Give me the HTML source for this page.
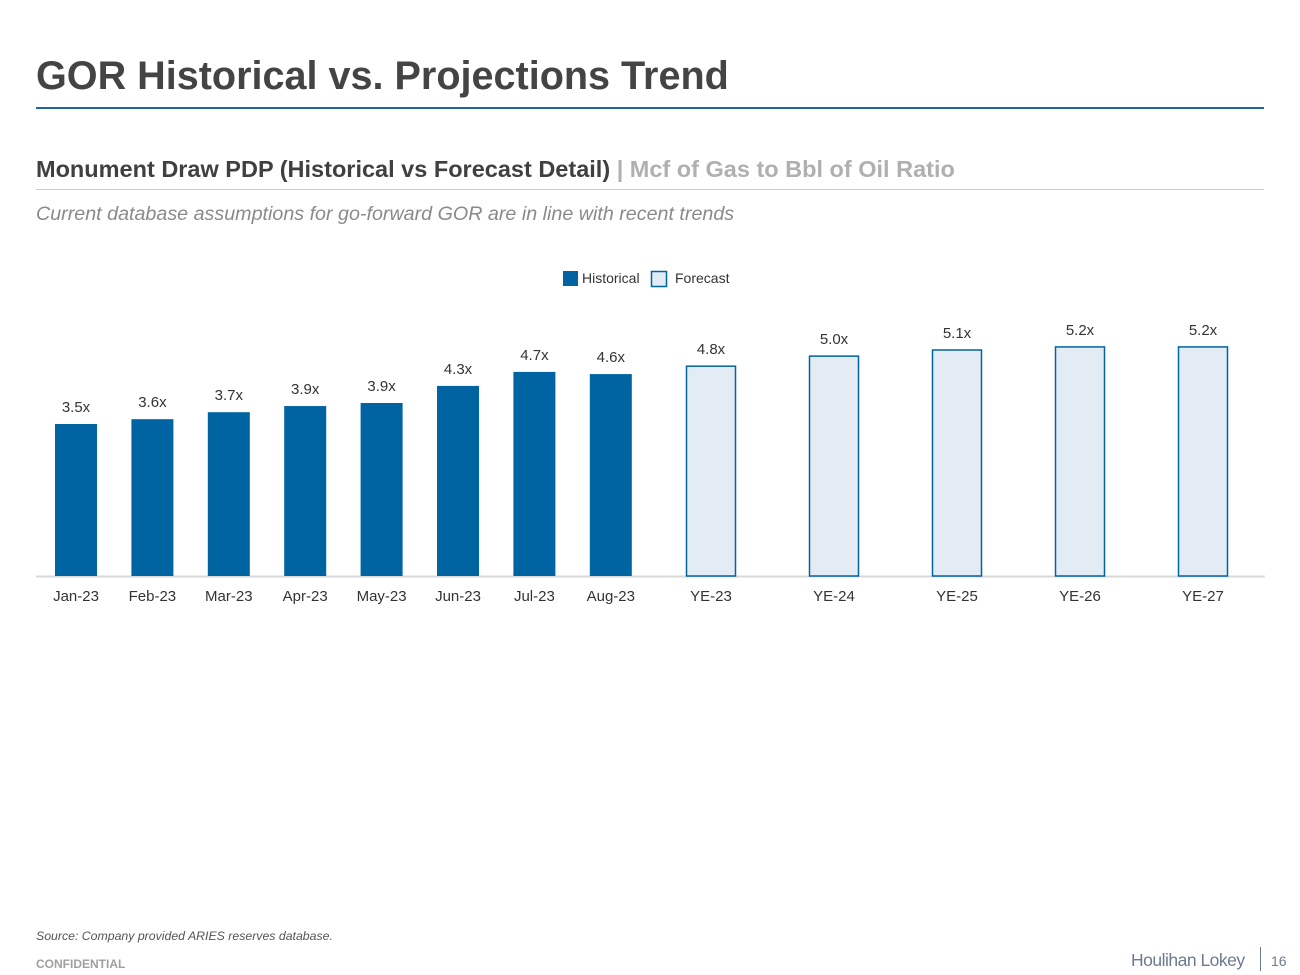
<!DOCTYPE html>
<html><head><meta charset="utf-8"><style>
body{margin:0;width:1300px;height:975px;background:#fff;font-family:"Liberation Sans",sans-serif;position:relative;overflow:hidden}
.a{position:absolute;white-space:nowrap}
</style></head><body>
<div class="a" style="left:36px;top:54px;font-size:39.6px;font-weight:bold;color:#444">GOR Historical vs. Projections Trend</div>
<div class="a" style="left:36px;top:107px;width:1228px;height:2px;background:#1f64a5"></div>
<div class="a" style="left:36px;top:156px;font-size:23.5px;font-weight:bold;color:#404040">Monument Draw PDP (Historical vs Forecast Detail) <span style="color:#b0b0b0">| Mcf of Gas to Bbl of Oil Ratio</span></div>
<div class="a" style="left:36px;top:189px;width:1228px;height:1px;background:#ccc"></div>
<div class="a" style="left:36px;top:203px;font-size:19.7px;font-style:italic;color:#8a8a8a">Current database assumptions for go-forward GOR are in line with recent trends</div>
<svg class="a" style="left:0;top:0" width="1300" height="975">
<g font-size="14" fill="#333">
<rect x="563" y="271" width="15" height="15" fill="#0063a2"/>
<text x="582" y="283">Historical</text>
<rect x="651.5" y="271.5" width="15" height="15" fill="#e3ecf4" stroke="#0063a2" stroke-width="1.5"/>
<text x="675" y="283">Forecast</text>
</g>
<line x1="36" x2="1265" y1="576.5" y2="576.5" stroke="#d9d9d9" stroke-width="2"/>
<g id="bars"></g>
</svg>
<div class="a" style="left:36px;top:929px;font-size:12.3px;font-style:italic;color:#555">Source: Company provided ARIES reserves database.</div>
<div class="a" style="left:36px;top:957px;font-size:12px;font-weight:bold;color:#a0a0a0">CONFIDENTIAL</div>
<div class="a" style="left:1131px;top:950px;font-size:17.5px;color:#6a7a8f;letter-spacing:-0.5px">Houlihan Lokey</div>
<div class="a" style="left:1260px;top:947px;width:1px;height:24px;background:#6a7a8f"></div>
<div class="a" style="left:1271px;top:953px;font-size:14px;color:#6a7a8f">16</div>
<script>
const categories=["Jan-23","Feb-23","Mar-23","Apr-23","May-23","Jun-23","Jul-23","Aug-23","YE-23","YE-24","YE-25","YE-26","YE-27"];
const values=[3.47,3.58,3.74,3.88,3.95,4.34,4.66,4.61,4.79,5.02,5.16,5.23,5.23];
const labels=["3.5x","3.6x","3.7x","3.9x","3.9x","4.3x","4.7x","4.6x","4.8x","5.0x","5.1x","5.2x","5.2x"];
const isForecast=[0,0,0,0,0,0,0,0,1,1,1,1,1];
const base=576,scale=43.8;
function y(v){return base-v*scale;}
function xc(i){return i<8?76+i*76.4:711+(i-8)*123;}
const g=document.getElementById('bars'),ns='http://www.w3.org/2000/svg';
categories.forEach((c,i)=>{
 const f=isForecast[i],w=f?49:42,x=xc(i),top=y(values[i]);
 const r=document.createElementNS(ns,'rect');
 r.setAttribute('x',x-w/2);r.setAttribute('y',top);r.setAttribute('width',w);r.setAttribute('height',base-top);
 r.setAttribute('fill',f?'#e3ecf4':'#0063a2');
 if(f){r.setAttribute('stroke','#0063a2');r.setAttribute('stroke-width','1.5');}
 
 
 g.appendChild(r);
 const t=document.createElementNS(ns,'text');
 t.setAttribute('x',x);t.setAttribute('y',top-12);t.setAttribute('text-anchor','middle');t.setAttribute('font-size','15');t.setAttribute('fill','#333');
 t.textContent=labels[i];
 
 
 g.appendChild(t);
 const l=document.createElementNS(ns,'text');
 l.setAttribute('x',x);l.setAttribute('y',601);l.setAttribute('text-anchor','middle');l.setAttribute('font-size','15');l.setAttribute('fill','#333');
 l.textContent=c;
 
 
 g.appendChild(l);
});
</script>
</body></html>
